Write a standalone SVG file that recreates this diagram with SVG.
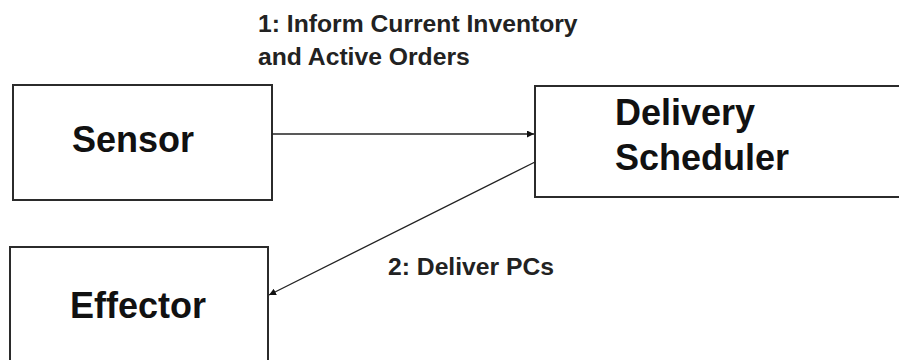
<svg xmlns="http://www.w3.org/2000/svg" width="899" height="360" viewBox="0 0 899 360">
  <style>
    .box { fill: #ffffff; stroke: #2b2b2b; stroke-width: 2; }
    .node-label { font-family: "Liberation Sans", Arial, sans-serif; font-weight: bold; font-size: 36px; fill: #111111; }
    .edge { stroke: #222222; stroke-width: 1.3; fill: none; }
    .edge-label { font-family: "Liberation Sans", Arial, sans-serif; font-weight: bold; font-size: 24.7px; fill: #222222; }
  </style>
  <defs>
    <marker id="arrow" viewBox="0 0 10 10" refX="10" refY="5" markerWidth="7" markerHeight="7" markerUnits="userSpaceOnUse" orient="auto">
      <path d="M0,0 L10,5 L0,10 Z" fill="#111111"/>
    </marker>
  </defs>
  <rect width="899" height="360" fill="#ffffff"/>

  <g id="sensor">
    <rect class="box" x="13" y="85" width="259" height="115"/>
    <text class="node-label" x="72" y="152">Sensor</text>
  </g>

  <g id="delivery-scheduler">
    <rect class="box" x="535" y="86" width="380" height="111"/>
    <text class="node-label" x="615" y="125">Delivery</text>
    <text class="node-label" x="615" y="170">Scheduler</text>
  </g>

  <g id="effector">
    <rect class="box" x="10" y="247" width="258" height="130"/>
    <text class="node-label" x="70" y="318">Effector</text>
  </g>

  <g id="connectors">
    <line class="edge" x1="272" y1="134" x2="534" y2="134" marker-end="url(#arrow)"/>
    <text class="edge-label" x="258" y="32">1: Inform Current Inventory</text>
    <text class="edge-label" x="258" y="65">and Active Orders</text>
    <line class="edge" x1="535" y1="162" x2="269" y2="295" marker-end="url(#arrow)"/>
    <text class="edge-label" x="388" y="275">2: Deliver PCs</text>
  </g>
</svg>
